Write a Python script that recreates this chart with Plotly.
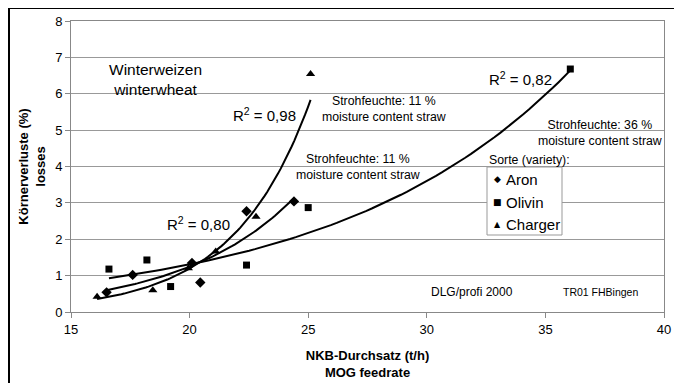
import numpy as np
import plotly.graph_objects as go

# ---- data ----
aron_x = [16.5, 17.6, 20.1, 20.45, 22.4, 24.4]
aron_y = [0.54, 1.02, 1.35, 0.81, 2.77, 3.04]
olivin_x = [16.6, 18.2, 19.2, 22.4, 25.0, 36.05]
olivin_y = [1.18, 1.43, 0.70, 1.29, 2.87, 6.68]
charger_x = [16.1, 18.45, 19.95, 21.1, 22.8, 25.1]
charger_y = [0.42, 0.60, 1.20, 1.66, 2.62, 6.54]

series_names = ["Aron", "Olivin", "Charger"]
x_ticks = [15, 20, 25, 30, 35, 40]
y_ticks = [0, 1, 2, 3, 4, 5, 6, 7, 8]

FONT = "Liberation Sans, Arial, sans-serif"

def exp_trend(xs, ys, n=80):
    xs = np.asarray(xs, float)
    ys = np.asarray(ys, float)
    b, a = np.polyfit(xs, np.log(ys), 1)
    xx = np.linspace(xs.min(), xs.max(), n)
    return xx, np.exp(a) * np.exp(b * xx)

fig = go.Figure()

for xs, ys in [(aron_x, aron_y), (olivin_x, olivin_y), (charger_x, charger_y)]:
    tx, ty = exp_trend(xs, ys)
    fig.add_trace(go.Scatter(x=tx, y=ty, mode="lines", line=dict(color="black", width=2),
                             showlegend=False, hoverinfo="skip"))

fig.add_trace(go.Scatter(x=aron_x, y=aron_y, mode="markers", name=series_names[0], showlegend=False,
                         marker=dict(symbol="diamond", size=8, color="black")))
fig.add_trace(go.Scatter(x=olivin_x, y=olivin_y, mode="markers", name=series_names[1], showlegend=False,
                         marker=dict(symbol="square", size=7, color="black")))
fig.add_trace(go.Scatter(x=charger_x, y=charger_y, mode="markers", name=series_names[2], showlegend=False,
                         marker=dict(symbol="triangle-up", size=8, color="black")))

# page is drawn with an 8px body offset
OFF = 8
W, H = 682 - OFF, 383 - OFF
PL, PR, PT, PB = 71, 664, 21, 312   # plot area in page pixels
L, R, T, B = PL - OFF, W - (PR - OFF), PT - OFF, H - (PB - OFF)

def px(xp):
    return (xp - PL) / (PR - PL)

def py(yp):
    return (PB - yp) / (PB - PT)

annots = [
    ("Winterweizen<br>winterwheat", 155, 80, 15.5, "center"),
    ("R<sup>2</sup> = 0,98", 264, 115, 15, "center"),
    ("Strohfeuchte: 11 %<br>moisture content straw", 384, 109, 12.3, "center"),
    ("Strohfeuchte: 11 %<br>moisture content straw", 358, 167, 12.3, "center"),
    ("Strohfeuchte: 36 %<br>moisture content straw", 600, 133, 12.3, "center"),
    ("R<sup>2</sup> = 0,82", 520, 79, 15, "center"),
    ("R<sup>2</sup> = 0,80", 198, 223, 15, "center"),
    ("DLG/profi 2000", 472, 292, 12, "center"),
    ("TR01 FHBingen", 600, 292, 10.5, "center"),
]
for text, x, y, size, al in annots:
    fig.add_annotation(x=px(x), y=py(y), xref="paper", yref="paper", text=text,
                       showarrow=False, align=al, xanchor="center", yanchor="middle",
                       font=dict(family=FONT, size=size, color="black"))

fig.add_annotation(x=px(487), y=py(160), xref="paper", yref="paper", text="Sorte (variety):",
                   showarrow=False, xanchor="left", yanchor="middle",
                   font=dict(family=FONT, size=12.3, color="black"))

# manual legend
fig.add_shape(type="rect", xref="paper", yref="paper",
              x0=px(487), x1=px(562), y0=py(235), y1=py(167),
              line=dict(color="#999999", width=1), fillcolor="white", layer="above")
legend_syms = ["\u25c6", "\u25a0", "\u25b2"]
legend_sizes = [9, 9, 8]
legend_ys = [179, 202, 224]
for name, sym, ss, ly in zip(series_names, legend_syms, legend_sizes, legend_ys):
    fig.add_annotation(x=px(497), y=py(ly), xref="paper", yref="paper", text=sym,
                       showarrow=False, xanchor="center", yanchor="middle",
                       font=dict(family="DejaVu Sans", size=ss, color="black"))
    fig.add_annotation(x=px(504), y=py(ly), xref="paper", yref="paper", text=name,
                       showarrow=False, xanchor="left", yanchor="middle",
                       font=dict(family=FONT, size=15, color="black"))

# outer frame
fig.add_shape(type="rect", xref="paper", yref="paper",
              x0=px(9), x1=px(720), y0=py(420), y1=py(8),
              line=dict(color="black", width=2), fillcolor="rgba(0,0,0,0)", layer="below")

fig.update_layout(
    width=W, height=H,
    margin=dict(l=L, r=R, t=T, b=B, autoexpand=False),
    paper_bgcolor="white", plot_bgcolor="white",
    font=dict(family=FONT, size=13, color="black"),
    showlegend=False,
    xaxis=dict(range=[15, 40], tickvals=x_ticks, showgrid=False, zeroline=False,
               showline=True, linecolor="#888888", mirror=True, ticks="outside",
               ticklen=5, tickcolor="#888888",
               tickfont=dict(family=FONT, size=13),
               title=dict(text="<b>NKB-Durchsatz (t/h)<br>MOG feedrate</b>",
                          font=dict(family=FONT, size=13), standoff=15)),
    yaxis=dict(range=[0, 8], tickvals=y_ticks, showgrid=True, gridcolor="#999999",
               gridwidth=1, zeroline=False, showline=True, linecolor="#888888",
               mirror=True, ticks="outside", ticklen=5, tickcolor="#888888",
               tickfont=dict(family=FONT, size=13),
               title=dict(text="<b>Körnerverluste (%)<br>losses</b>",
                          font=dict(family=FONT, size=13), standoff=6)),
)

fig.write_html("out.html")
